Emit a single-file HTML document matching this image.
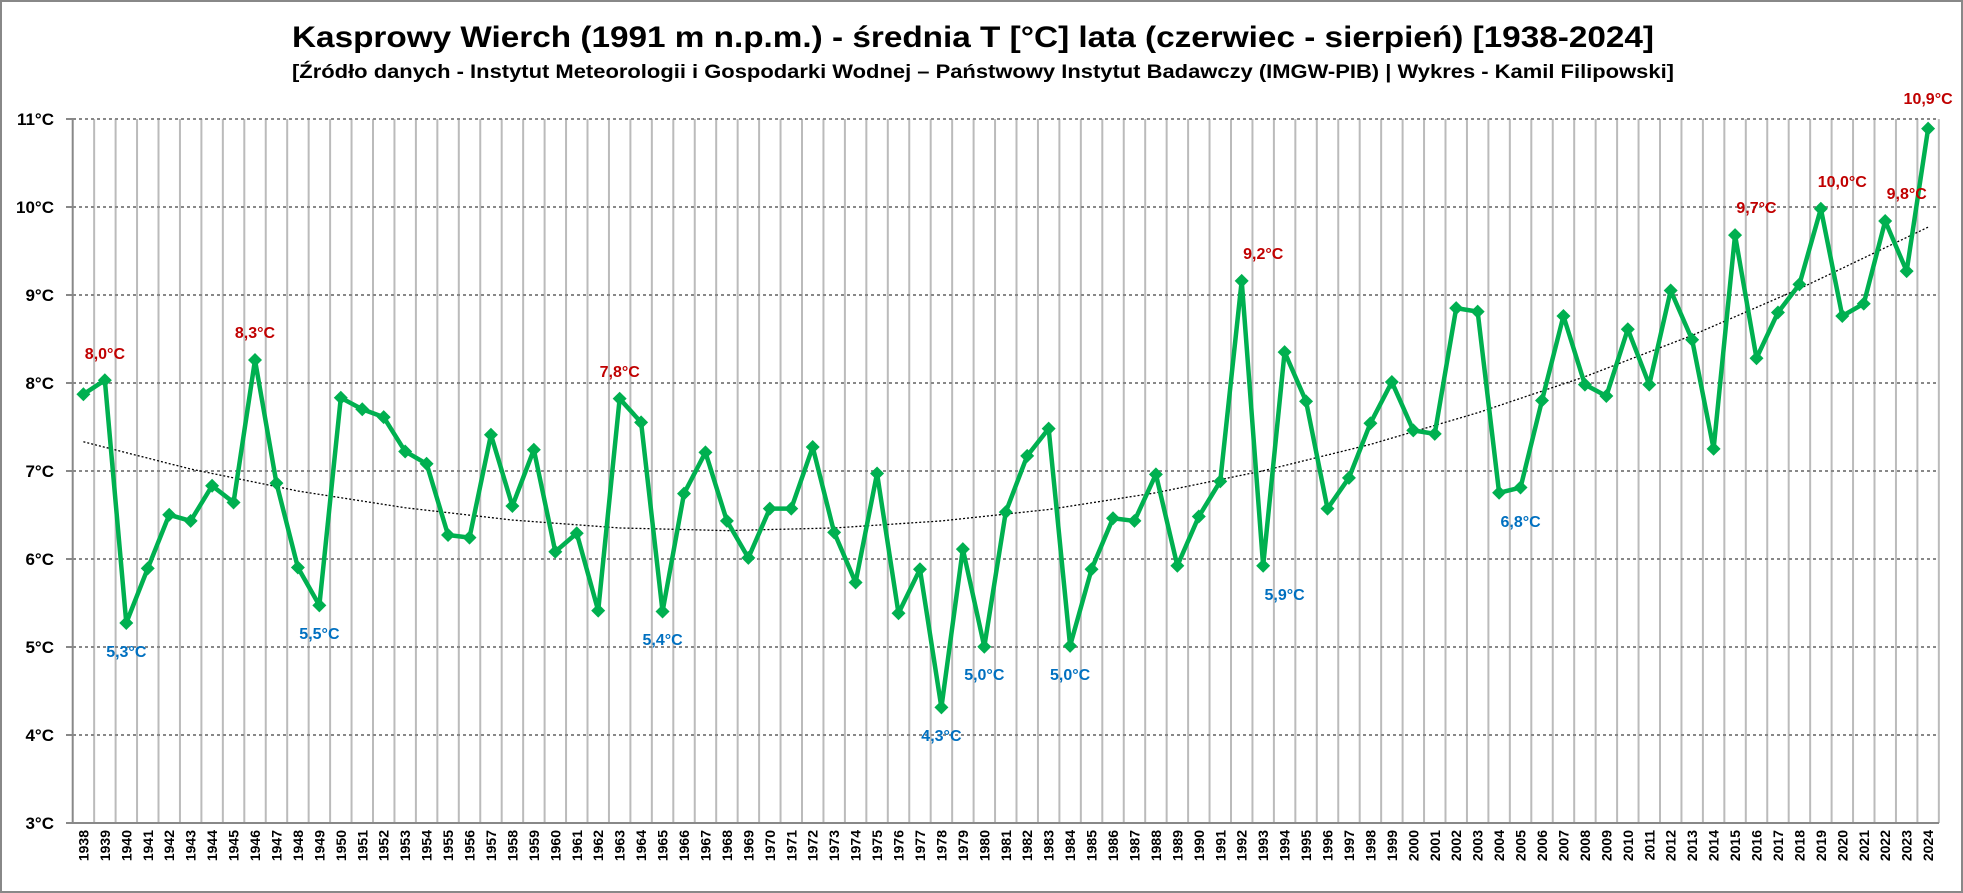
<!DOCTYPE html>
<html><head><meta charset="utf-8"><style>
html,body{margin:0;padding:0;background:#fff}
svg{display:block}
text{font-family:"Liberation Sans",Arial,sans-serif;font-weight:bold}
</style></head><body>
<svg width="1963" height="893" viewBox="0 0 1963 893" xmlns="http://www.w3.org/2000/svg">
<defs>
<marker id="dm" markerUnits="userSpaceOnUse" markerWidth="0.653" markerHeight="0.159" viewBox="-7 -7 14 14" preserveAspectRatio="none" refX="0" refY="0" overflow="visible">
<polygon points="0,-7 7,0 0,7 -7,0" fill="#00B050"/>
</marker>
</defs>
<rect x="1" y="1" width="1961" height="891" fill="#fff" stroke="#888" stroke-width="2"/>
<text x="973" y="47" font-size="30" text-anchor="middle" textLength="1362" lengthAdjust="spacingAndGlyphs">Kasprowy Wierch (1991 m n.p.m.) - średnia T [°C] lata (czerwiec - sierpień) [1938-2024]</text>
<text x="983" y="78" font-size="19" text-anchor="middle" textLength="1382" lengthAdjust="spacingAndGlyphs">[Źródło danych - Instytut Meteorologii i Gospodarki Wodnej – Państwowy Instytut Badawczy (IMGW-PIB) | Wykres - Kamil Filipowski]</text>

<!-- vertical grid -->
<g stroke="#bbb" stroke-width="2">
<path d="M94.15 119V823M115.6 119V823M137.05 119V823M158.5 119V823M179.95 119V823M201.4 119V823M222.85 119V823M244.3 119V823M265.75 119V823M287.2 119V823M308.65 119V823M330.1 119V823M351.55 119V823M373 119V823M394.45 119V823M415.9 119V823M437.35 119V823M458.8 119V823M480.25 119V823M501.7 119V823M523.15 119V823M544.6 119V823M566.05 119V823M587.5 119V823M608.95 119V823M630.4 119V823M651.85 119V823M673.3 119V823M694.75 119V823M716.2 119V823M737.65 119V823M759.1 119V823M780.55 119V823M802 119V823M823.45 119V823M844.9 119V823M866.35 119V823M887.8 119V823M909.25 119V823M930.7 119V823M952.15 119V823M973.6 119V823M995.05 119V823M1016.5 119V823M1037.95 119V823M1059.4 119V823M1080.85 119V823M1102.3 119V823M1123.75 119V823M1145.2 119V823M1166.65 119V823M1188.1 119V823M1209.55 119V823M1231 119V823M1252.45 119V823M1273.9 119V823M1295.35 119V823M1316.8 119V823M1338.25 119V823M1359.7 119V823M1381.15 119V823M1402.6 119V823M1424.05 119V823M1445.5 119V823M1466.95 119V823M1488.4 119V823M1509.85 119V823M1531.3 119V823M1552.75 119V823M1574.2 119V823M1595.65 119V823M1617.1 119V823M1638.55 119V823M1660 119V823M1681.45 119V823M1702.9 119V823M1724.35 119V823M1745.8 119V823M1767.25 119V823M1788.7 119V823M1810.15 119V823M1831.6 119V823M1853.05 119V823M1874.5 119V823M1895.95 119V823M1917.4 119V823M1938.85 119V823"/>
</g>
<!-- horizontal dotted grid -->
<g stroke="#888" stroke-width="2" stroke-dasharray="3,3">
<path d="M73 119H1939M73 207H1939M73 295H1939M73 383H1939M73 471H1939M73 559H1939M73 647H1939M73 735H1939"/>
</g>
<g stroke="#888" stroke-width="2">
<path d="M72.7 119V823M66 119H73M66 207H73M66 295H73M66 383H73M66 471H73M66 559H73M66 647H73M66 735H73M66 823H73M72 823H1939"/>
</g>
<g font-size="17" text-anchor="end">
<text x="54" y="125">11°C</text><text x="54" y="213">10°C</text><text x="54" y="301">9°C</text><text x="54" y="389">8°C</text><text x="54" y="477">7°C</text><text x="54" y="565">6°C</text><text x="54" y="653">5°C</text><text x="54" y="741">4°C</text><text x="54" y="829">3°C</text>
</g>

<g transform="translate(83.4,822.6) scale(21.45,-87.95)">
<polyline fill="none" stroke="#000" stroke-width="1.3" stroke-dasharray="2,2" vector-effect="non-scaling-stroke" points="0,4.33 5,4.02 10,3.77 15,3.58 20,3.44 25,3.35 30,3.32 35,3.35 40,3.43 45,3.56 50,3.75 55,4.00 60,4.30 65,4.66 70,5.07 75,5.54 80,6.07 86,6.77"/>
<polyline fill="none" stroke="#00B050" stroke-width="4.5" stroke-linejoin="round" vector-effect="non-scaling-stroke" marker-start="url(#dm)" marker-mid="url(#dm)" marker-end="url(#dm)" points="0,4.87 1,5.03 2,2.27 3,2.89 4,3.5 5,3.43 6,3.83 7,3.64 8,5.26 9,3.86 10,2.9 11,2.47 12,4.83 13,4.7 14,4.61 15,4.22 16,4.08 17,3.27 18,3.24 19,4.41 20,3.6 21,4.24 22,3.08 23,3.29 24,2.41 25,4.82 26,4.55 27,2.4 28,3.74 29,4.21 30,3.43 31,3.01 32,3.57 33,3.57 34,4.27 35,3.3 36,2.73 37,3.97 38,2.38 39,2.88 40,1.31 41,3.11 42,2.0 43,3.53 44,4.17 45,4.48 46,2.01 47,2.88 48,3.46 49,3.43 50,3.96 51,2.92 52,3.48 53,3.88 54,6.16 55,2.92 56,5.35 57,4.79 58,3.57 59,3.92 60,4.54 61,5.01 62,4.46 63,4.42 64,5.85 65,5.81 66,3.75 67,3.81 68,4.8 69,5.76 70,4.98 71,4.85 72,5.61 73,4.98 74,6.05 75,5.49 76,4.25 77,6.68 78,5.28 79,5.8 80,6.12 81,6.98 82,5.76 83,5.9 84,6.84 85,6.27 86,7.89"/>
</g>

<g font-size="16" text-anchor="middle" fill="#C00000">
<text x="104.9" y="359">8,0°C</text>
<text x="255.0" y="338">8,3°C</text>
<text x="619.7" y="377">7,8°C</text>
<text x="1263.2" y="259">9,2°C</text>
<text x="1756.5" y="213">9,7°C</text>
<text x="1842.3" y="187">10,0°C</text>
<text x="1906.7" y="199">9,8°C</text>
<text x="1928.1" y="104">10,9°C</text>
</g>
<g font-size="16" text-anchor="middle" fill="#0070C0">
<text x="126.3" y="657">5,3°C</text>
<text x="319.4" y="639">5,5°C</text>
<text x="662.6" y="645">5,4°C</text>
<text x="941.4" y="741">4,3°C</text>
<text x="984.3" y="680">5,0°C</text>
<text x="1070.1" y="680">5,0°C</text>
<text x="1284.6" y="600">5,9°C</text>
<text x="1520.6" y="527">6,8°C</text>
</g>

<g font-size="14" text-anchor="end">
<text transform="translate(88.4,830) rotate(-90)">1938</text>
<text transform="translate(109.9,830) rotate(-90)">1939</text>
<text transform="translate(131.3,830) rotate(-90)">1940</text>
<text transform="translate(152.8,830) rotate(-90)">1941</text>
<text transform="translate(174.2,830) rotate(-90)">1942</text>
<text transform="translate(195.7,830) rotate(-90)">1943</text>
<text transform="translate(217.1,830) rotate(-90)">1944</text>
<text transform="translate(238.6,830) rotate(-90)">1945</text>
<text transform="translate(260.0,830) rotate(-90)">1946</text>
<text transform="translate(281.5,830) rotate(-90)">1947</text>
<text transform="translate(302.9,830) rotate(-90)">1948</text>
<text transform="translate(324.4,830) rotate(-90)">1949</text>
<text transform="translate(345.8,830) rotate(-90)">1950</text>
<text transform="translate(367.3,830) rotate(-90)">1951</text>
<text transform="translate(388.7,830) rotate(-90)">1952</text>
<text transform="translate(410.2,830) rotate(-90)">1953</text>
<text transform="translate(431.6,830) rotate(-90)">1954</text>
<text transform="translate(453.1,830) rotate(-90)">1955</text>
<text transform="translate(474.5,830) rotate(-90)">1956</text>
<text transform="translate(496.0,830) rotate(-90)">1957</text>
<text transform="translate(517.4,830) rotate(-90)">1958</text>
<text transform="translate(538.9,830) rotate(-90)">1959</text>
<text transform="translate(560.3,830) rotate(-90)">1960</text>
<text transform="translate(581.8,830) rotate(-90)">1961</text>
<text transform="translate(603.2,830) rotate(-90)">1962</text>
<text transform="translate(624.7,830) rotate(-90)">1963</text>
<text transform="translate(646.1,830) rotate(-90)">1964</text>
<text transform="translate(667.6,830) rotate(-90)">1965</text>
<text transform="translate(689.0,830) rotate(-90)">1966</text>
<text transform="translate(710.5,830) rotate(-90)">1967</text>
<text transform="translate(731.9,830) rotate(-90)">1968</text>
<text transform="translate(753.4,830) rotate(-90)">1969</text>
<text transform="translate(774.8,830) rotate(-90)">1970</text>
<text transform="translate(796.3,830) rotate(-90)">1971</text>
<text transform="translate(817.7,830) rotate(-90)">1972</text>
<text transform="translate(839.2,830) rotate(-90)">1973</text>
<text transform="translate(860.6,830) rotate(-90)">1974</text>
<text transform="translate(882.1,830) rotate(-90)">1975</text>
<text transform="translate(903.5,830) rotate(-90)">1976</text>
<text transform="translate(925.0,830) rotate(-90)">1977</text>
<text transform="translate(946.4,830) rotate(-90)">1978</text>
<text transform="translate(967.9,830) rotate(-90)">1979</text>
<text transform="translate(989.3,830) rotate(-90)">1980</text>
<text transform="translate(1010.8,830) rotate(-90)">1981</text>
<text transform="translate(1032.2,830) rotate(-90)">1982</text>
<text transform="translate(1053.7,830) rotate(-90)">1983</text>
<text transform="translate(1075.1,830) rotate(-90)">1984</text>
<text transform="translate(1096.6,830) rotate(-90)">1985</text>
<text transform="translate(1118.0,830) rotate(-90)">1986</text>
<text transform="translate(1139.5,830) rotate(-90)">1987</text>
<text transform="translate(1160.9,830) rotate(-90)">1988</text>
<text transform="translate(1182.4,830) rotate(-90)">1989</text>
<text transform="translate(1203.8,830) rotate(-90)">1990</text>
<text transform="translate(1225.3,830) rotate(-90)">1991</text>
<text transform="translate(1246.7,830) rotate(-90)">1992</text>
<text transform="translate(1268.2,830) rotate(-90)">1993</text>
<text transform="translate(1289.6,830) rotate(-90)">1994</text>
<text transform="translate(1311.1,830) rotate(-90)">1995</text>
<text transform="translate(1332.5,830) rotate(-90)">1996</text>
<text transform="translate(1354.0,830) rotate(-90)">1997</text>
<text transform="translate(1375.4,830) rotate(-90)">1998</text>
<text transform="translate(1396.9,830) rotate(-90)">1999</text>
<text transform="translate(1418.3,830) rotate(-90)">2000</text>
<text transform="translate(1439.8,830) rotate(-90)">2001</text>
<text transform="translate(1461.2,830) rotate(-90)">2002</text>
<text transform="translate(1482.7,830) rotate(-90)">2003</text>
<text transform="translate(1504.1,830) rotate(-90)">2004</text>
<text transform="translate(1525.6,830) rotate(-90)">2005</text>
<text transform="translate(1547.0,830) rotate(-90)">2006</text>
<text transform="translate(1568.5,830) rotate(-90)">2007</text>
<text transform="translate(1589.9,830) rotate(-90)">2008</text>
<text transform="translate(1611.4,830) rotate(-90)">2009</text>
<text transform="translate(1632.8,830) rotate(-90)">2010</text>
<text transform="translate(1654.3,830) rotate(-90)">2011</text>
<text transform="translate(1675.7,830) rotate(-90)">2012</text>
<text transform="translate(1697.2,830) rotate(-90)">2013</text>
<text transform="translate(1718.6,830) rotate(-90)">2014</text>
<text transform="translate(1740.1,830) rotate(-90)">2015</text>
<text transform="translate(1761.5,830) rotate(-90)">2016</text>
<text transform="translate(1783.0,830) rotate(-90)">2017</text>
<text transform="translate(1804.4,830) rotate(-90)">2018</text>
<text transform="translate(1825.9,830) rotate(-90)">2019</text>
<text transform="translate(1847.3,830) rotate(-90)">2020</text>
<text transform="translate(1868.8,830) rotate(-90)">2021</text>
<text transform="translate(1890.2,830) rotate(-90)">2022</text>
<text transform="translate(1911.7,830) rotate(-90)">2023</text>
<text transform="translate(1933.1,830) rotate(-90)">2024</text>
</g>
</svg>
</body></html>
